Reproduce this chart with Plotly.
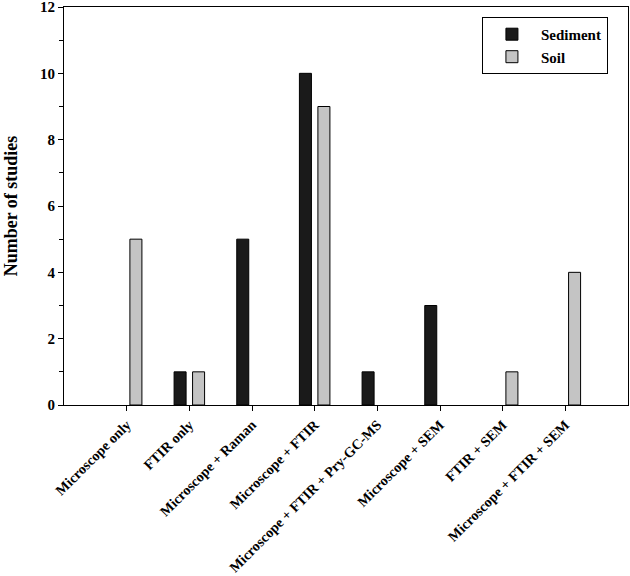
import plotly.graph_objects as go

categories = ["Microscope only", "FTIR only", "Microscope + Raman", "Microscope + FTIR",
              "Microscope + FTIR + Pry-GC-MS", "Microscope + SEM", "FTIR + SEM",
              "Microscope + FTIR + SEM"]
sediment = [0, 1, 5, 10, 1, 3, 0, 0]
soil = [5, 1, 0, 9, 0, 0, 1, 4]
y_ticks = [0, 2, 4, 6, 8, 10, 12]

font_family = "Liberation Serif"
xs = list(range(len(categories)))


def hide_zero(vals):
    return [v if v != 0 else None for v in vals]


fig = go.Figure()
fig.add_trace(go.Bar(x=xs, y=hide_zero(sediment), name="<b>Sediment</b>",
                     marker=dict(color="#1a1a1a", line=dict(color="black", width=1))))
fig.add_trace(go.Bar(x=xs, y=hide_zero(soil), name="<b>Soil</b>",
                     marker=dict(color="#c4c4c4", line=dict(color="black", width=1))))

fig.update_layout(
    width=630, height=576,
    margin=dict(l=64, r=2, t=7, b=171, autoexpand=False),
    paper_bgcolor="white", plot_bgcolor="white",
    barmode="group", bargap=0.41, bargroupgap=0.35,
    font=dict(family=font_family, color="black", size=15),
    showlegend=True,
    legend=dict(x=0.741, y=0.975, xanchor="left", yanchor="top",
                bordercolor="black", borderwidth=1, bgcolor="white",
                font=dict(family=font_family, size=15, color="black"),
                itemwidth=48, tracegroupgap=0),
)
fig.update_xaxes(
    range=[-1, 8], tickmode="array", tickvals=xs,
    ticktext=["<b>%s</b>" % c for c in categories],
    tickangle=-45, ticks="outside", ticklen=5, tickcolor="black",
    showline=True, linecolor="black", linewidth=1, mirror=True,
    showgrid=False, zeroline=False, automargin=False,
    ticklabeloverflow="allow",
    tickfont=dict(family=font_family, size=14.2, color="black"),
)
fig.update_yaxes(
    range=[0, 12], tickmode="array", tickvals=y_ticks,
    ticktext=["<b>%d</b>" % v for v in y_ticks],
    ticks="outside", ticklen=5, tickcolor="black",
    minor=dict(dtick=1, ticks="outside", ticklen=4, tickcolor="black", showgrid=False),
    showline=True, linecolor="black", linewidth=1, mirror=True,
    showgrid=False, zeroline=False, automargin=False,
    ticklabeloverflow="allow",
    tickfont=dict(family=font_family, size=15, color="black"),
    title=dict(text="<b>Number of studies</b>", standoff=17,
               font=dict(family=font_family, size=18, color="black")),
)

fig.write_html("out.html",
               config={"displayModeBar": False},
               post_script="document.body.style.margin='0';document.body.style.overflow='hidden';")
